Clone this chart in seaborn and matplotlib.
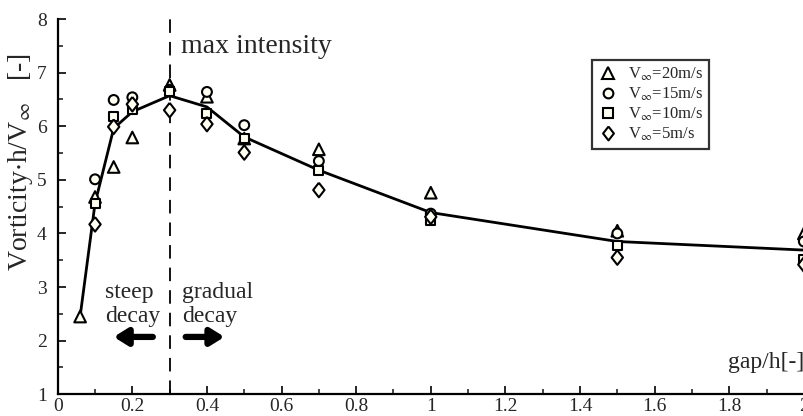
import numpy as np
import pandas as pd
import matplotlib
matplotlib.use("Agg")
import matplotlib.pyplot as plt
from matplotlib.lines import Line2D
from matplotlib.ticker import MultipleLocator
import seaborn as sns

# ---- data ----
gap = [0.06, 0.1, 0.15, 0.2, 0.3, 0.4, 0.5, 0.7, 1.0, 1.5, 2.0]
v20 = [2.45, 4.68, 5.24, 5.79, 6.77, 6.55, 5.77, 5.57, 4.76, 4.05, 4.00]
v15 = [np.nan, 5.01, 6.49, 6.54, 6.68, 6.64, 6.02, 5.35, 4.37, 4.00, 3.85]
v10 = [np.nan, 4.56, 6.19, 6.32, 6.64, 6.23, 5.77, 5.18, 4.24, 3.78, 3.52]
v5 = [np.nan, 4.17, 5.99, 6.41, 6.30, 6.04, 5.51, 4.81, 4.31, 3.55, 3.42]
mean_line = [2.45, 4.56, 5.96, 6.27, 6.57, 6.36, 5.80, 5.18, 4.39, 3.85, 3.69]
series_names = ["20", "15", "10", "5"]
legend_labels = [r"V$_\infty$=20m/s", r"V$_\infty$=15m/s", r"V$_\infty$=10m/s", r"V$_\infty$=5m/s"]
x_ticks = [0, 0.2, 0.4, 0.6, 0.8, 1.0, 1.2, 1.4, 1.6, 1.8, 2.0]
x_ticklabels = ["0", "0.2", "0.4", "0.6", "0.8", "1", "1.2", "1.4", "1.6", "1.8", "2"]
y_ticks = [1, 2, 3, 4, 5, 6, 7, 8]

sns.set_style("ticks")
plt.rcParams["font.family"] = ["Liberation Serif", "DejaVu Serif"]
plt.rcParams["mathtext.fontset"] = "stix"

rows = []
for name, vals in zip(series_names, [v20, v15, v10, v5]):
    for g, v in zip(gap, vals):
        if not np.isnan(v):
            rows.append({"gap": g, "vort": v, "speed": name})
df = pd.DataFrame(rows)
line_df = pd.DataFrame({"gap": gap, "vort": mean_line})

fig = plt.figure(figsize=(8.04, 4.16), dpi=100)
ax = fig.add_axes([0.0718, 0.0522, 0.928, 0.9021])

face = "#fffff4"
diamond = [(0, 1), (0.78, 0), (0, -1), (-0.78, 0), (0, 1)]
marker_map = {"20": "^", "15": "o", "10": "s", "5": diamond}
size_map = {"20": 70, "15": 50, "10": 42, "5": 110}

ax.axvline(0.3, color="black", lw=1.3, dashes=(7.5, 5), zorder=1)
sns.lineplot(data=line_df, x="gap", y="vort", ax=ax, color="black", lw=2.0,
             zorder=2, legend=False)
sns.scatterplot(data=df, x="gap", y="vort", hue="speed", style="speed", size="speed",
                markers=marker_map, palette={k: face for k in series_names},
                sizes=size_map,
                hue_order=series_names[::-1], style_order=series_names[::-1],
                size_order=series_names[::-1],
                edgecolor="black", linewidth=1.5, ax=ax, legend=False,
                zorder=3, clip_on=False)

ax.set_xlim(0, 2.0)
ax.set_ylim(1, 8)
ax.set_xticks(x_ticks)
ax.set_xticklabels(x_ticklabels)
ax.set_yticks(y_ticks)
ax.xaxis.set_minor_locator(MultipleLocator(0.1))
ax.yaxis.set_minor_locator(MultipleLocator(0.5))
ax.tick_params(which="major", direction="in", length=6, width=1.4, labelsize=14)
ax.tick_params(which="minor", direction="in", length=3.5, width=1.2)
ax.tick_params(axis="x", pad=3)
ax.tick_params(axis="y", pad=8)
for s in ["top", "right"]:
    ax.spines[s].set_visible(False)
for s in ["left", "bottom"]:
    ax.spines[s].set_linewidth(1.6)
    ax.spines[s].set_color("black")

ax.set_xlabel("")
ax.set_ylabel(r"Vorticity$\cdot$h/V$_\infty$   [-]", fontsize=20)
ax.yaxis.set_label_coords(-0.031, 0.62)
ax.text(2.0, 1.6, "gap/h[-]", ha="right", va="center", fontsize=17)
ax.text(0.33, 7.48, "max intensity", ha="left", va="center", fontsize=20)
ax.text(0.127, 3.1, "steep\ndecay", ha="left", va="top", fontsize=17, linespacing=1.2)
ax.text(0.333, 3.1, "gradual\ndecay", ha="left", va="top", fontsize=17, linespacing=1.2)

arrow_kw = dict(arrowstyle="-|>,head_length=0.8,head_width=0.5", color="black", lw=4.5,
                shrinkA=0, shrinkB=0)
ax.annotate("", xy=(0.15, 2.07), xytext=(0.255, 2.07), arrowprops=arrow_kw)
ax.annotate("", xy=(0.447, 2.07), xytext=(0.343, 2.07), arrowprops=arrow_kw)

leg_sizes = {"20": 8, "15": 7, "10": 6.5, "5": 10}
handles = [Line2D([], [], ls="none", marker=marker_map[k], markersize=leg_sizes[k],
                  markerfacecolor=face, markeredgecolor="black", markeredgewidth=1.5)
           for k in series_names]
leg = ax.legend(handles, legend_labels, loc="upper left", bbox_to_anchor=(0.716, 0.891),
                fontsize=12, frameon=True, fancybox=False, edgecolor="black",
                handlelength=1.2, handletextpad=0.6, borderpad=0.35, labelspacing=0.15,
                borderaxespad=0)
leg.get_frame().set_linewidth(1.6)

fig.savefig("out.png", dpi=100)
